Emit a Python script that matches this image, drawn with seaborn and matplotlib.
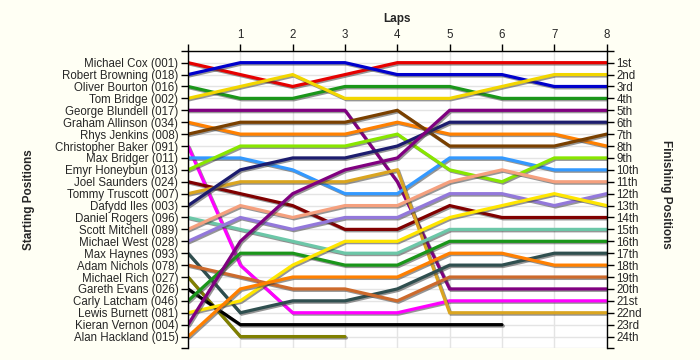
import pandas as pd
import numpy as np
import seaborn as sns
import matplotlib
matplotlib.use("Agg")
import matplotlib.pyplot as plt
import matplotlib.patheffects as pe

laps = [0, 1, 2, 3, 4, 5, 6, 7, 8]

pilotos = [
    "Michael Cox (001)", "Robert Browning (018)", "Oliver Bourton (016)",
    "Tom Bridge (002)", "George Blundell (017)", "Graham Allinson (034)",
    "Rhys Jenkins (008)", "Christopher Baker (091)", "Max Bridger (011)",
    "Emyr Honeybun (013)", "Joel Saunders (024)", "Tommy Truscott (007)",
    "Dafydd Iles (003)", "Daniel Rogers (096)", "Scott Mitchell (089)",
    "Michael West (028)", "Max Haynes (093)", "Adam Nichols (078)",
    "Michael Rich (027)", "Gareth Evans (026)", "Carly Latcham (046)",
    "Lewis Burnett (081)", "Kieran Vernon (004)", "Alan Hackland (015)",
]

# posicao por volta (None = abandonou)
posicoes = [
    [1, 2, 3, 2, 1, 1, 1, 1, 1],
    [2, 1, 1, 1, 2, 2, 2, 3, 3],
    [3, 4, 4, 3, 3, 3, 4, 4, 4],
    [4, 3, 2, 4, 4, 4, 3, 2, 2],
    [5, 5, 5, 5, 11, 20, 20, 20, 20],
    [6, 7, 7, 7, 6, 7, 7, 7, 8],
    [7, 6, 6, 6, 5, 8, 8, 8, 7],
    [8, 18, 22, 22, 22, 21, 21, 21, 21],
    [9, 9, 10, 12, 12, 9, 9, 10, 10],
    [10, 8, 8, 8, 7, 10, 11, 9, 9],
    [11, 12, 13, 15, 15, 13, 14, 14, 14],
    [12, 11, 11, 11, 10, 22, 22, 22, 22],
    [13, 10, 9, 9, 8, 6, 6, 6, 6],
    [14, 15, 16, 17, 17, 15, 15, 15, 15],
    [15, 13, 14, 13, 13, 11, 10, 11, 11],
    [16, 14, 15, 14, 14, 12, 12, 13, 12],
    [17, 22, 21, 21, 20, 18, 18, 17, 17],
    [18, 19, 20, 20, 21, 19, 19, 19, 19],
    [19, 24, 24, 24, None, None, None, None, None],
    [20, 23, 23, 23, 23, 23, 23, None, None],
    [21, 17, 17, 18, 18, 16, 16, 16, 16],
    [22, 21, 18, 16, 16, 14, 13, 12, 13],
    [23, 16, 12, 10, 9, 5, 5, 5, 5],
    [24, 20, 19, 19, 19, 17, 17, 18, 18],
]

cores = [
    "#E60000", "#0000CC", "#1A961A", "#F2D600", "#800080", "#FF8000",
    "#7A4000", "#FF00FF", "#3399FF", "#88E600", "#800000", "#DAA520",
    "#1C1C6E", "#6CC7A8", "#F5A07E", "#9378DB", "#2F4F4F", "#CD6A2C",
    "#808000", "#000000", "#1A961A", "#FFE600", "#800080", "#FF8000",
]

finais = ["1st", "2nd", "3rd"] + [f"{i}th" for i in range(4, 21)] + ["21st", "22nd", "23rd", "24th"]

linhas = []
for nome, pos in zip(pilotos, posicoes):
    for volta, p in zip(laps, pos):
        if p is not None:
            linhas.append([nome, volta, p])
dados = pd.DataFrame(linhas, columns=["Piloto", "Volta", "Posicao"])

sns.set_style("white")
plt.rcParams["font.family"] = ["Liberation Sans", "DejaVu Sans"]

fig = plt.figure(figsize=(7, 3.6), dpi=100, facecolor="#FFFFF4")
ax = fig.add_axes([0.2686, 0.032, 0.598, 0.827])
ax.set_facecolor("#FFFFFF")

sns.lineplot(
    data=dados, x="Volta", y="Posicao", hue="Piloto", hue_order=pilotos,
    palette=cores, legend=False, estimator=None, sort=False, lw=2.3, ax=ax,
)
for ln in ax.lines:
    ln.set_path_effects([
        pe.SimpleLineShadow(offset=(1, -1), shadow_color="#404040", alpha=0.55),
        pe.Normal(),
    ])
    ln.set_solid_joinstyle("miter")

ax.set_xlim(0, 8)
ax.set_ylim(25, 0)
ax.set_yticks(range(0, 26))
ax.set_yticklabels([""] + pilotos + [""], fontsize=8.3)
ax.set_xticks(range(0, 9))
ax.set_xticklabels([""] + [str(i) for i in range(1, 9)], fontsize=8.3)
ax.xaxis.tick_top()
ax.tick_params(axis="both", direction="out", length=5, width=1, color="black", pad=2)
ax.grid(True, color="#E4E4E4", lw=1)
ax.set_axisbelow(True)
for lado in ["left", "right", "top"]:
    ax.spines[lado].set_color("black")
    ax.spines[lado].set_linewidth(1)
ax.spines["bottom"].set_visible(False)
ax.set_xlabel("")
ax.set_ylabel("")

ax2 = ax.twinx()
ax2.set_ylim(25, 0)
ax2.set_yticks(range(0, 26))
ax2.set_yticklabels([""] + finais + [""], fontsize=8.3)
ax2.tick_params(axis="y", direction="out", length=5, width=1, color="black", pad=2)
for lado in ["left", "right", "top", "bottom"]:
    ax2.spines[lado].set_visible(False)

fig.text(0.567, 0.948, "Laps", ha="center", va="center", fontsize=8.5, fontweight="bold")
fig.text(0.041, 0.445, "Starting Positions", ha="center", va="center", rotation=90,
         fontsize=8.5, fontweight="bold")
fig.text(0.951, 0.46, "Finishing Positions", ha="center", va="center", rotation=-90,
         fontsize=8.5, fontweight="bold")

fig.savefig("out.png", dpi=100, facecolor=fig.get_facecolor())
